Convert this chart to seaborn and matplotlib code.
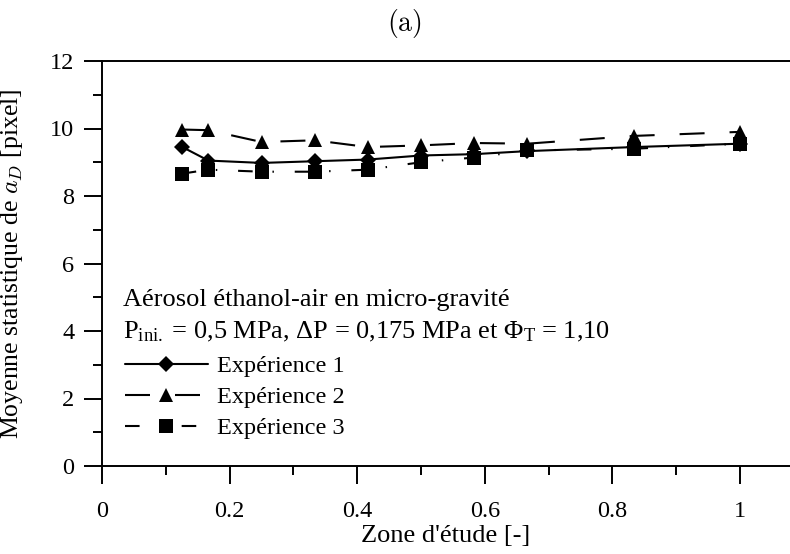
import matplotlib
matplotlib.use("Agg")
import matplotlib.pyplot as plt
import seaborn as sns
import numpy as np
import pandas as pd
from matplotlib.ticker import MultipleLocator

# ---- data ----
zone = [0.125, 0.1667, 0.25, 0.3333, 0.4167, 0.5, 0.5833, 0.6667, 0.8333, 1.0]
exp1 = [9.46, 9.05, 8.98, 9.03, 9.08, 9.2, 9.24, 9.33, 9.45, 9.55]
exp2 = [9.97, 9.95, 9.6, 9.65, 9.45, 9.5, 9.57, 9.55, 9.78, 9.9]
exp3 = [8.66, 8.78, 8.72, 8.72, 8.78, 9.0, 9.14, 9.35, 9.4, 9.55]
labels = ["Expérience 1", "Expérience 2", "Expérience 3"]
xticks = [0, 0.2, 0.4, 0.6, 0.8, 1]
yticks = [0, 2, 4, 6, 8, 10, 12]

sns.set_theme(style="ticks")
plt.rcParams["font.family"] = ["Liberation Serif", "DejaVu Serif"]
plt.rcParams["mathtext.fontset"] = "custom"
plt.rcParams["mathtext.rm"] = "Liberation Serif"
plt.rcParams["mathtext.it"] = "Liberation Serif:italic"

W, H = 790, 554
fig = plt.figure(figsize=(W / 100, H / 100), dpi=100)
ax = fig.add_axes([102 / W, 1 - 466 / H, 1 - 102 / W, (466 - 61) / H])

lw = 1.5
sns.lineplot(x=zone, y=exp1, ax=ax, color="black", lw=lw, marker="D",
             markersize=8, markeredgewidth=0, label=labels[0], legend=False)
sns.lineplot(x=zone, y=exp2, ax=ax, color="black", lw=lw, marker="^",
             markersize=10, markeredgewidth=0, label=labels[1], legend=False,
             linestyle=(0, (12, 12)))
sns.lineplot(x=zone, y=exp3, ax=ax, color="black", lw=lw, marker="s",
             markersize=9.5, markeredgewidth=0, label=labels[2], legend=False,
             linestyle=(0, (7, 9.5, 0.7, 10)))

ax.set_xlim(0, (W - 102) / 638)
ax.set_ylim(0, 12)
ax.set_xticks(xticks)
ax.set_xticklabels([f"{t:g}" for t in xticks])
ax.set_yticks(yticks)
ax.xaxis.set_minor_locator(MultipleLocator(0.1))
ax.yaxis.set_minor_locator(MultipleLocator(1))
ax.tick_params(which="major", direction="out", length=13, width=1.4,
               labelsize=17.5, color="black", labelcolor="black")
ax.tick_params(axis="x", which="major", pad=12)
ax.tick_params(axis="y", which="major", pad=7)
ax.tick_params(which="minor", direction="out", length=6.5, width=1.4,
               color="black")
for s in ["left", "bottom", "top"]:
    ax.spines[s].set_visible(True)
    ax.spines[s].set_linewidth(1.4)
    ax.spines[s].set_color("black")
ax.spines["right"].set_visible(False)
ax.set_facecolor("white")
ax.grid(False)

ax.set_xlabel("Zone d'étude [-]", fontsize=19, color="black")
ax.xaxis.set_label_coords(0.5, -(525 - 466) / (466 - 61))
yl = ax.set_ylabel(r"Moyenne statistique de $a_D$ [pixel]", fontsize=18.5,
                   color="black")
yl.set_math_fontfamily("cm")
ax.yaxis.set_label_coords(-(102 - 25) / (W - 102), 0.5)

t = fig.text(404 / W, 1 - 23 / H, r"$\mathrm{(a)}$", ha="center", va="center",
             fontsize=20, color="black")
t.set_math_fontfamily("cm")

fig.text(123 / W, 1 - 300 / H, "Aérosol éthanol-air en micro-gravité",
         fontsize=19, color="black", va="center", ha="left")
fig.text(123 / W, 1 - 332 / H,
         r"P$_{\mathrm{ini.}}$ = 0,5 MPa, ΔP = 0,175 MPa et Φ$_{\mathrm{T}}$ = 1,10",
         fontsize=19, color="black", va="center", ha="left")

leg = ax.legend(loc="upper left", bbox_to_anchor=(125 / W, 1 - 355 / H),
                bbox_transform=fig.transFigure, frameon=False, fontsize=17.5,
                handlelength=3.4, handletextpad=0.4, labelspacing=0.37,
                borderpad=0, borderaxespad=0)
for txt in leg.get_texts():
    txt.set_color("black")

fig.savefig("out.png", dpi=100, facecolor="white")
